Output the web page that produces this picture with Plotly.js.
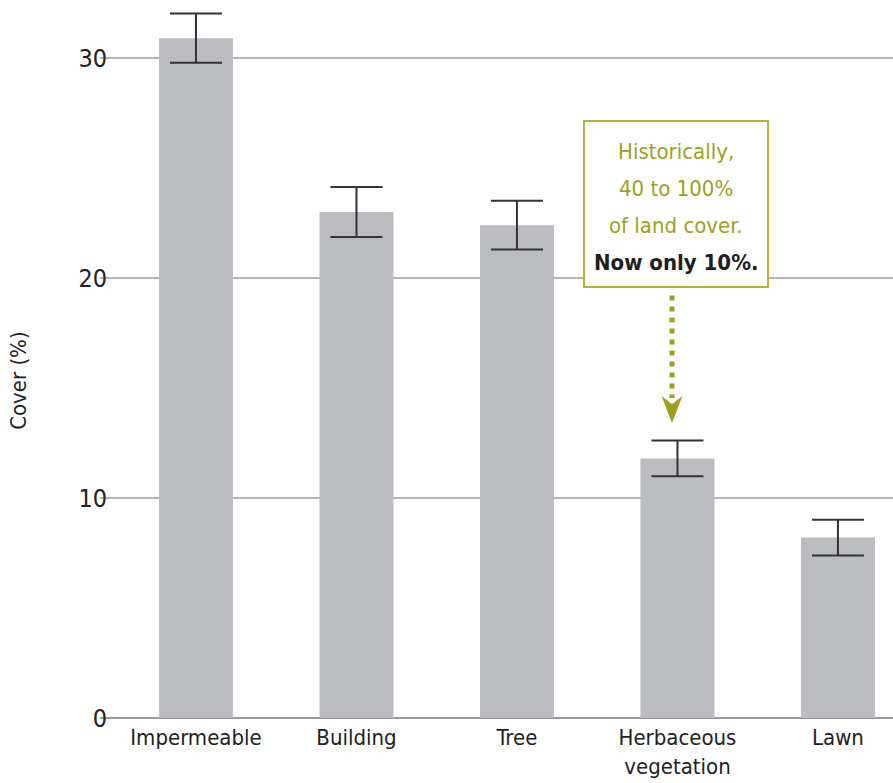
<!DOCTYPE html>
<html>
<head>
<meta charset="utf-8">
<script src="https://cdn.plot.ly/plotly-3.0.1.min.js"></script>
<style>html,body{margin:0;padding:0;background:#fff}#chart{width:893px;height:783px}</style>
</head>
<body>
<div id="chart"></div>
<script>
const categories = ["Impermeable", "Building", "Tree", "Herbaceous<br>vegetation", "Lawn"];
const coverValues = [30.9, 23.0, 22.4, 11.8, 8.2];
const coverErrors = [1.12, 1.14, 1.11, 0.81, 0.81];
const yTickValues = [0, 10, 20, 30];
const yTickLabels = ["0", "10", "20", "30"];
const noteLines = ["Historically,", "40 to 100%", "of land cover.", "<b>Now only 10%.</b>"];
const noteColors = ["#9fa01f", "#9fa01f", "#9fa01f", "#1e1e1e"];

const FONT = "'DejaVu Sans Condensed', 'Liberation Sans Narrow', sans-serif";
const OLIVE = "#9fa01f";

// annotation anchor positions (data units)
const noteX = 2.99, noteY = 23.36;
const noteLineSpacing = 37; // px
const arrowX = 2.966, arrowTopY = 19.2, arrowDotEndY = 14.55, arrowTipY = 13.41;

const trace = {
  type: "bar",
  x: categories,
  y: coverValues,
  marker: {color: "#bbbcc0"},
  error_y: {type: "data", array: coverErrors, visible: true, color: "#333333", thickness: 2, width: 26},
  hoverinfo: "x+y"
};

const annotations = [
  {
    xref: "paper", yref: "paper", x: -0.103, y: 0.47, xanchor: "center", yanchor: "middle",
    text: "Cover (%)", textangle: -90, showarrow: false,
    font: {size: 22, color: "#222", family: FONT}
  },
  {
    xref: "x", yref: "y", x: noteX, y: noteY, xanchor: "center", yanchor: "middle",
    text: " ", showarrow: false,
    bgcolor: "#ffffff", bordercolor: "#b3b343", borderwidth: 2, borderpad: 0,
    width: 182, height: 164
  }
];
noteLines.forEach((line, i) => {
  annotations.push({
    xref: "x", yref: "y", x: noteX, y: noteY, xanchor: "center", yanchor: "middle",
    yshift: -((i - 1.5) * noteLineSpacing + 3),
    text: line, showarrow: false,
    font: {size: 22, color: noteColors[i], family: FONT}
  });
});

const layout = {
  width: 893, height: 783,
  margin: {l: 100, r: 0, t: 0, b: 65},
  paper_bgcolor: "#ffffff", plot_bgcolor: "#ffffff",
  showlegend: false,
  bargap: 0.539,
  font: {family: FONT, color: "#222222"},
  xaxis: {
    type: "category",
    range: [-0.598, 4.343],
    showgrid: false, zeroline: false, showline: false, ticks: "",
    tickfont: {size: 22, color: "#222"},
    ticklabelstandoff: 4,
    fixedrange: true
  },
  yaxis: {
    range: [0, 32.636],
    tickvals: yTickValues, ticktext: yTickLabels,
    showgrid: true, gridcolor: "#b4b4b4", gridwidth: 1.5,
    zeroline: true, zerolinecolor: "#999999", zerolinewidth: 2,
    showline: false, ticks: "",
    tickfont: {size: 25, color: "#222"},
    ticklabelstandoff: -8,
    fixedrange: true
  },
  annotations: annotations,
  shapes: [
    {
      type: "line", xref: "x", yref: "y",
      x0: arrowX, x1: arrowX, y0: arrowTopY, y1: arrowDotEndY,
      line: {color: OLIVE, width: 5, dash: "5px,6px"}
    },
    {
      type: "path", xref: "x", yref: "y",
      xsizemode: "pixel", ysizemode: "pixel",
      xanchor: arrowX, yanchor: arrowTipY,
      path: "M 0,0 L -10.5,27 L 0,19 L 10.5,27 Z",
      fillcolor: OLIVE, line: {width: 0}
    }
  ]
};

Plotly.newPlot("chart", [trace], layout, {displayModeBar: false, staticPlot: true});
</script>
</body>
</html>
